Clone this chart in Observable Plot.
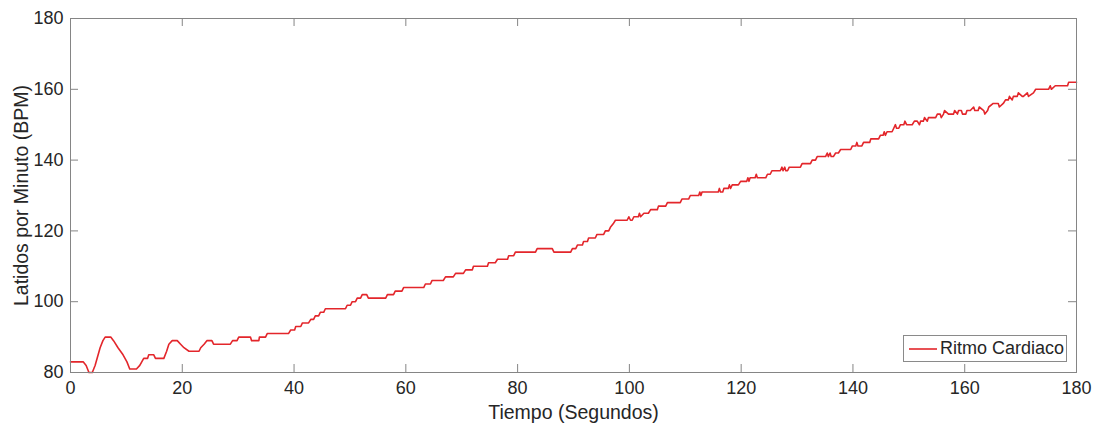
<!DOCTYPE html>
<html>
<head>
<meta charset="utf-8">
<script src="https://cdn.jsdelivr.net/npm/d3@7"></script>
<script src="https://cdn.jsdelivr.net/npm/@observablehq/plot@0.6"></script>
<style>
  html, body { margin: 0; padding: 0; background: #fff; }
  #wrap { position: relative; width: 1101px; height: 425px; font-family: "Liberation Sans", Arial, Helvetica, sans-serif; }
  #legend { position: absolute; left: 903px; top: 335px; width: 164px; height: 27px; border: 1px solid #8a8a8a; background: #fff; box-sizing: border-box; display: flex; align-items: center; font-size: 18px; color: #262626; }
  #legend svg { margin-left: 5px; margin-right: 3px; }
</style>
</head>
<body>
<div id="wrap"><div id="legend"></div></div>
<script>
// Time in seconds
const time = [
  0, 2.3, 2.8, 3.3, 3.9, 4.4, 5.3, 5.8, 6.2, 7.2, 7.7, 8.5, 9.4, 10.1, 10.6, 11.8, 12.4, 13.1, 13.8, 14, 14.9, 15.2, 16.7, 17.2, 17.6, 18.2, 19.1, 19.7, 20.3, 21.2,
  23, 23.3, 23.9, 24.4, 25.3, 25.6, 28.6, 29, 29.8, 30.1, 32.2, 32.4, 33.7, 33.8, 34.9, 35.2, 39, 39.4, 40.1, 40.3,
  41.2, 41.5, 42.6, 43, 43.5, 43.8, 44.4, 44.7, 45.3, 45.6, 49.2, 49.5, 50.1, 50.4, 51, 51.3, 51.9, 52.2, 53, 53.3,
  56.4, 56.7, 57.8, 58.1, 59.3, 59.6, 63.2, 63.5, 64.4, 64.7, 66.7, 67.1, 68.5, 68.9, 70.3, 70.7, 71.9, 72.1, 74.6, 74.8,
  76, 76.4, 78.2, 78.4, 79.3, 79.6, 83.2, 83.5, 86.2, 86.5, 89.5, 89.8, 90.4, 90.7, 91.6, 91.8, 92.5, 92.7, 93.9, 94.2,
  95.4, 95.7, 96.3, 96.6, 97.1, 97.5, 99.6, 99.9, 100.2, 100.5, 100.8, 101.6, 101.8, 102, 102.6, 103.4, 103.8, 105, 105.2, 106.5,
  106.8, 109.1, 109.4, 110.6, 110.9, 112.4, 112.6, 112.8, 113, 115.9, 116.1, 116.3, 116.7, 116.9, 117.7, 117.9, 118.1, 118.4, 119.5, 119.9,
  121, 121.2, 121.4, 121.6, 122.5, 122.7, 122.9, 124.4, 124.7, 125.2, 125.5, 127, 127.3, 127.5, 127.8, 128, 128.3, 128.6, 129, 130.6,
  130.9, 132.4, 132.7, 133.3, 133.6, 135.1, 135.4, 135.6, 135.9, 136.1, 136.5, 136.9, 137.4, 137.8, 139.6, 139.9, 140.5, 140.7, 140.9, 141.6,
  141.9, 143, 143.2, 144.6, 144.9, 145.4, 145.6, 145.8, 146.1, 147, 147.3, 147.6, 147.8, 148.2, 148.5, 149.1, 149.3, 149.6, 149.8, 150.6,
  151, 151.5, 151.9, 152.1, 152.6, 152.8, 153.3, 153.5, 154.8, 155.1, 155.6, 155.8, 156.2, 156.4, 157.1, 157.4, 158, 158.2, 158.7, 158.9,
  159.4, 159.6, 160.2, 160.4, 161, 161.6, 161.8, 162.4, 162.6, 163.4, 163.6, 164.1, 164.3, 165.1, 166, 166.2, 166.9, 167.3, 167.8, 168,
  168.5, 168.7, 169.4, 169.6, 170.3, 170.5, 171.2, 171.4, 172.3, 172.7, 175, 175.3, 175.5, 176.2, 178.4, 178.6, 180
];
// Heart rate (BPM)
const bpm = [
  83, 83, 82, 80, 80, 82, 87, 89, 90, 90, 89, 87, 85, 83, 81, 81, 82, 84, 84, 85, 85, 84, 84, 86, 88, 89, 89, 88, 87, 86,
  86, 87, 88, 89, 89, 88, 88, 89, 89, 90, 90, 89, 89, 90, 90, 91, 91, 92, 92, 93,
  93, 94, 94, 95, 95, 96, 96, 97, 97, 98, 98, 99, 99, 100, 100, 101, 101, 102, 102, 101,
  101, 102, 102, 103, 103, 104, 104, 105, 105, 106, 106, 107, 107, 108, 108, 109, 109, 110, 110, 111,
  111, 112, 112, 113, 113, 114, 114, 115, 115, 114, 114, 115, 115, 116, 116, 117, 117, 118, 118, 119,
  119, 120, 120, 121, 122, 123, 123, 124, 123, 123, 124, 124, 125, 124, 125, 125, 126, 126, 127, 127,
  128, 128, 129, 129, 130, 130, 131, 130, 131, 131, 132, 131, 131, 132, 132, 133, 132, 133, 133, 134,
  134, 135, 134, 135, 135, 136, 135, 135, 136, 136, 137, 137, 138, 137, 138, 137, 137, 138, 138, 138,
  139, 139, 140, 140, 141, 141, 142, 141, 142, 141, 141, 142, 142, 143, 143, 144, 144, 145, 144, 144,
  145, 145, 146, 146, 147, 147, 148, 147, 148, 148, 149, 150, 149, 149, 150, 150, 151, 150, 150, 150,
  151, 151, 150, 151, 151, 152, 151, 152, 152, 153, 153, 152, 153, 154, 153, 153, 153, 154, 153, 154,
  154, 153, 153, 154, 154, 155, 154, 154, 155, 154, 153, 154, 155, 156, 156, 155, 156, 157, 157, 158,
  157, 158, 158, 159, 158, 158, 159, 158, 159, 160, 160, 161, 160, 161, 161, 162, 162
];
const xTicks = [0, 20, 40, 60, 80, 100, 120, 140, 160, 180];
const yTicks = [80, 100, 120, 140, 160, 180];
const seriesName = "Ritmo Cardiaco";
const xLabel = "Tiempo (Segundos)";
const yLabel = "Latidos por Minuto (BPM)";

const data = time.map((t, i) => ({t, v: bpm[i]}));
const lineColor = "#e3262b";
const axisColor = "#858585";
const W = 1101, H = 425, mL = 70, mR = 25, mT = 18, mB = 53;
const pw = W - mL - mR, ph = H - mT - mB;
const tl = 8;

const chart = Plot.plot({
  width: W,
  height: H,
  marginLeft: mL,
  marginRight: mR,
  marginTop: mT,
  marginBottom: mB,
  style: {fontFamily: '"Liberation Sans", Arial, Helvetica, sans-serif', fontSize: "18px", color: "#262626", background: "#fff", overflow: "visible"},
  x: {domain: [0, 180], ticks: xTicks},
  y: {domain: [80, 180], ticks: yTicks},
  marks: [
    Plot.axisX(xTicks, {tickSize: 0, tickPadding: 9, fontSize: 18, label: xLabel, labelAnchor: "center", labelOffset: 46, labelArrow: "none"}),
    Plot.axisY(yTicks, {tickSize: 0, tickPadding: 7, fontSize: 18, label: yLabel, labelAnchor: "center", labelOffset: 56, labelArrow: "none"}),
    Plot.line(data, {x: "t", y: "v", stroke: lineColor, strokeWidth: 1.6, curve: "linear"}),
    Plot.tickX(xTicks, {x: d => d, stroke: axisColor, insetTop: ph - tl}),
    Plot.tickX(xTicks, {x: d => d, stroke: axisColor, insetBottom: ph - tl}),
    Plot.tickY(yTicks, {y: d => d, stroke: axisColor, insetRight: pw - tl}),
    Plot.tickY(yTicks, {y: d => d, stroke: axisColor, insetLeft: pw - tl}),
    Plot.frame({stroke: axisColor, strokeWidth: 1})
  ]
});
const wrap = document.getElementById("wrap");
wrap.insertBefore(chart, wrap.firstChild);
chart.style.position = "absolute";
chart.style.left = "0";
chart.style.top = "0";
chart.querySelectorAll("[aria-label='x-axis label'] text, [aria-label='y-axis label'] text").forEach(t => t.setAttribute("font-size", "19.5"));

const lg = document.getElementById("legend");
lg.innerHTML = `<svg width="28" height="10"><line x1="0" y1="5" x2="28" y2="5" stroke="${lineColor}" stroke-width="1.6"/></svg><span>${seriesName}</span>`;
</script>
</body>
</html>
